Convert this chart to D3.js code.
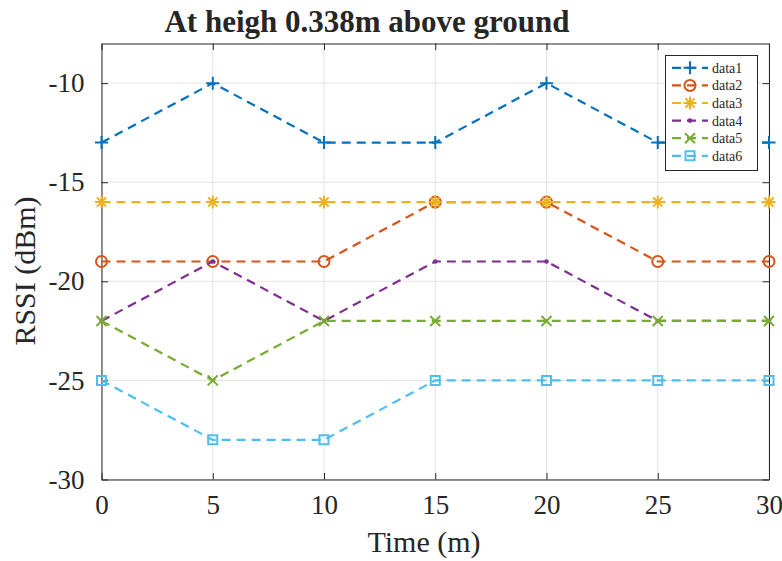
<!DOCTYPE html>
<html>
<head>
<meta charset="utf-8">
<script src="https://cdn.jsdelivr.net/npm/d3@7"></script>
<style>
  body { margin: 0; background: #fff; }
  svg { display: block; }
  text { font-family: "Liberation Serif", "Times New Roman", serif; fill: #262626; }
</style>
</head>
<body>
<svg id="chart" width="782" height="561"></svg>
<script>
const times = [0, 5, 10, 15, 20, 25, 30];
const data1 = [-13, -10, -13, -13, -10, -13, -13];
const data2 = [-19, -19, -19, -16, -16, -19, -19];
const data3 = [-16, -16, -16, -16, -16, -16, -16];
const data4 = [-22, -19, -22, -19, -19, -22, -22];
const data5 = [-22, -25, -22, -22, -22, -22, -22];
const data6 = [-25, -28, -28, -25, -25, -25, -25];
const seriesNames = ["data1", "data2", "data3", "data4", "data5", "data6"];
const seriesColors = ["#0072BD", "#D95319", "#EDB120", "#7E2F8E", "#77AC30", "#4DBEEE"];
const seriesMarkers = ["plus", "circle", "asterisk", "dot", "x", "square"];
const xTicks = [0, 5, 10, 15, 20, 25, 30];
const yTicks = [-30, -25, -20, -15, -10];
const titleText = "At heigh 0.338m above ground";
const xLabelText = "Time (m)";
const yLabelText = "RSSI (dBm)";

const allSeries = [data1, data2, data3, data4, data5, data6];

const svg = d3.select("#chart");
const L = 101.5, R = 769, T = 43.5, B = 479.5;
const x = d3.scaleLinear().domain([0, 30]).range([L, R]);
const y = d3.scaleLinear().domain([-30, -8]).range([B, T]);

// grid
const g = svg.append("g");
g.selectAll("line.vg").data(xTicks).join("line")
  .attr("x1", d => x(d)).attr("x2", d => x(d)).attr("y1", T).attr("y2", B)
  .attr("stroke", "#e3e3e3").attr("stroke-width", 1);
g.selectAll("line.hg").data(yTicks).join("line")
  .attr("y1", d => y(d)).attr("y2", d => y(d)).attr("x1", L).attr("x2", R)
  .attr("stroke", "#e3e3e3").attr("stroke-width", 1);

// axes (ticks inward, on all sides)
const axB = d3.axisBottom(x).tickValues(xTicks).tickSizeInner(-6.5).tickSizeOuter(0).tickPadding(15);
const axT = d3.axisTop(x).tickValues(xTicks).tickSizeInner(-6.5).tickSizeOuter(0).tickFormat("");
const axL = d3.axisLeft(y).tickValues(yTicks).tickSizeInner(-6.5).tickSizeOuter(0).tickPadding(17).tickFormat(d3.format("d"));
const axR = d3.axisRight(y).tickValues(yTicks).tickSizeInner(-6.5).tickSizeOuter(0).tickFormat("");

function styleAxis(sel) {
  sel.select(".domain").attr("stroke", "#262626").attr("stroke-width", 1);
  sel.selectAll(".tick line").attr("stroke", "#262626").attr("stroke-width", 1);
  sel.selectAll(".tick text").attr("font-family", "Liberation Serif, serif")
     .attr("font-size", 27).attr("fill", "#262626");
}
svg.append("g").attr("transform", `translate(0,${B})`).call(axB).call(styleAxis)
  .selectAll(".tick text").attr("dy", "0.71em");
svg.append("g").attr("transform", `translate(0,${T})`).call(axT).call(styleAxis);
svg.append("g").attr("transform", `translate(${L},0)`).call(axL).call(styleAxis)
  .selectAll(".tick text").text(d => "-" + Math.abs(d));
svg.append("g").attr("transform", `translate(${R},0)`).call(axR).call(styleAxis);

// markers
function markerPath(type) {
  switch (type) {
    case "plus": return "M-6.5,0H6.5M0,-6.5V6.5";
    case "x": return "M-5,-5L5,5M-5,5L5,-5";
    case "asterisk": return "M-6.5,0H6.5M0,-6.5V6.5M-4.6,-4.6L4.6,4.6M-4.6,4.6L4.6,-4.6";
    case "square": return "M-4.5,-4.5H4.5V4.5H-4.5Z";
    default: return null;
  }
}
function drawMarker(sel, type, color) {
  if (type === "circle") {
    sel.append("circle").attr("r", 5.5).attr("fill", "none").attr("stroke", color).attr("stroke-width", 2);
  } else if (type === "dot") {
    sel.append("circle").attr("r", 2.3).attr("fill", color);
  } else {
    sel.append("path").attr("d", markerPath(type)).attr("fill", "none").attr("stroke", color).attr("stroke-width", 2);
  }
}

const line = d3.line().x((d, i) => x(times[i])).y(d => y(d));
allSeries.forEach((vals, si) => {
  const color = seriesColors[si];
  const sg = svg.append("g");
  sg.append("path").datum(vals).attr("d", line)
    .attr("fill", "none").attr("stroke", color).attr("stroke-width", 2.2)
    .attr("stroke-dasharray", "9,6");
  vals.forEach((v, i) => {
    const m = sg.append("g").attr("transform", `translate(${x(times[i])},${y(v)})`);
    drawMarker(m, seriesMarkers[si], color);
  });
});

// legend
const lg = svg.append("g");
lg.append("rect").attr("x", 665.5).attr("y", 55.5).attr("width", 92).attr("height", 115)
  .attr("fill", "#fff").attr("stroke", "#262626").attr("stroke-width", 1);
seriesNames.forEach((name, si) => {
  const cy = 67.8 + si * 17.6;
  const color = seriesColors[si];
  lg.append("line").attr("x1", 672).attr("x2", 708).attr("y1", cy).attr("y2", cy)
    .attr("stroke", color).attr("stroke-width", 2.2).attr("stroke-dasharray", "9,6");
  const m = lg.append("g").attr("transform", `translate(690,${cy})`);
  drawMarker(m, seriesMarkers[si], color);
  lg.append("text").attr("x", 712).attr("y", cy).attr("dy", "0.35em")
    .attr("font-size", 14).text(name);
});

// title and labels
svg.append("text").attr("x", 367).attr("y", 31.5).attr("text-anchor", "middle")
  .attr("font-size", 31).attr("font-weight", "bold").attr("fill", "#000").text(titleText);
svg.append("text").attr("x", 424).attr("y", 551.5).attr("text-anchor", "middle")
  .attr("font-size", 30).text(xLabelText);
svg.append("text").attr("transform", "translate(35,271) rotate(-90)").attr("text-anchor", "middle")
  .attr("font-size", 30).text(yLabelText);
</script>
</body>
</html>
